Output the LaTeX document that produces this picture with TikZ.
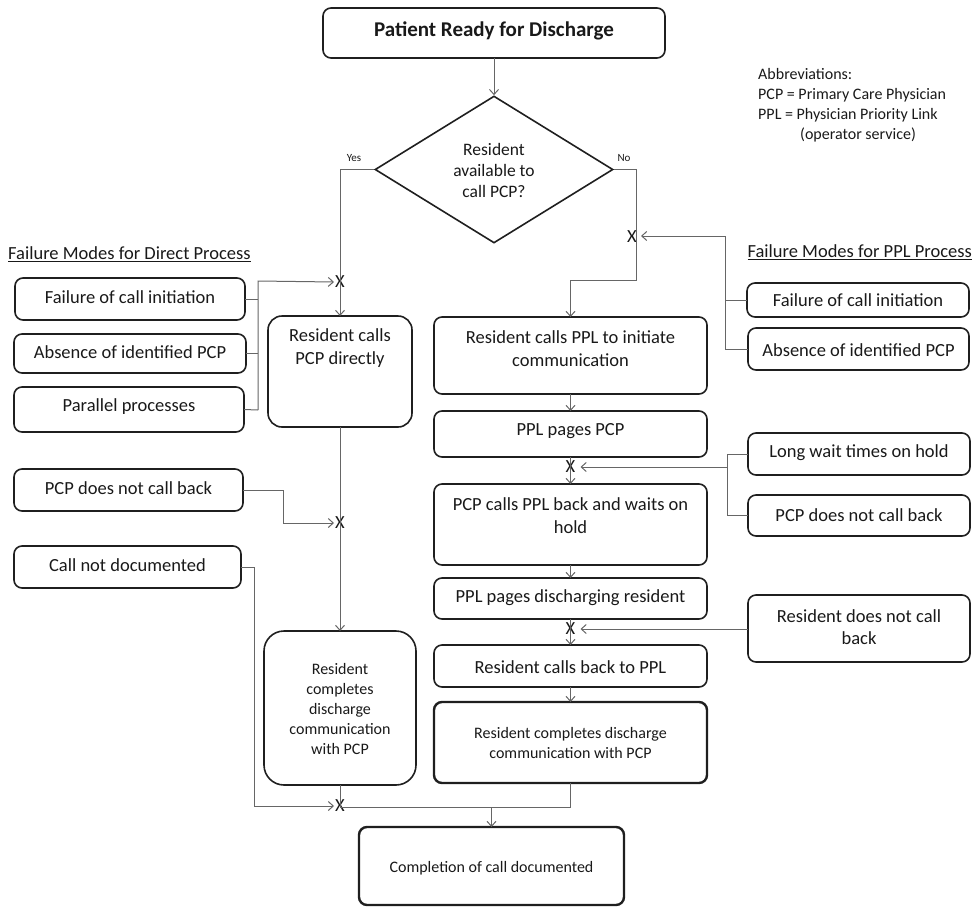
\documentclass[tikz,border=0pt]{standalone}
\usepackage{fontspec}
\setmainfont{Carlito}
\usetikzlibrary{arrows.meta,shapes.geometric}
\newcommand\fsA{\fontsize{18.5}{23}\selectfont}
\newcommand\fsB{\fontsize{16}{20}\selectfont}
\newcommand\fsD{\fontsize{17.5}{21}\selectfont}
\newcommand\fsS{\fontsize{11}{13}\selectfont}
\newcommand\fsT{\fontsize{21}{25}\selectfont\bfseries}
\begin{document}
\begin{tikzpicture}[x=1pt,y=-1pt,
  box/.style={draw=black!88, line width=1.6pt, rounded corners=8pt, inner sep=0pt, outer sep=0pt},
  boxthick/.style={box, line width=2.4pt},
  txt/.style={inner sep=0pt, align=center, font=\fsA, text=black!90},
  small/.style={txt, font=\fsB},
  conn/.style={draw=black!60, line width=1pt},
  arr/.style={conn, -{Straight Barb[length=5pt,width=9pt]}},
  xmark/.style={inner sep=1pt, font=\fsA, text=black!90}
]
\useasboundingbox (0,0) rectangle (973,907);

% ---------- main column ----------
\node[box, minimum width=342, minimum height=50] (top) at (494,33) {};
\node[txt, font=\fsT] at (494,31) {Patient Ready for Discharge};

\node[draw=black!88, line width=1.6pt, diamond, inner sep=0pt, minimum width=238, minimum height=147] (dec) at (494,169.5) {};
\node[txt, font=\fsD, align=center] at (494,170) {Resident\\available to\\call PCP?};
\node[txt, font=\fsS] at (354,158) {Yes};
\node[txt, font=\fsS] at (624,158) {No};

% ---------- direct process ----------
\node[box, rounded corners=14pt, minimum width=144, minimum height=111] (pcp) at (340,371.5) {};
\node[txt] at (340,348.5) {Resident calls\\PCP directly};

\node[box, rounded corners=20pt, minimum width=152, minimum height=154] (lcomp) at (340,708) {};
\node[small] at (340,709) {Resident\\completes\\discharge\\communication\\with PCP};

% ---------- PPL process ----------
\node[box, minimum width=273, minimum height=77] (r1) at (570.5,355.5) {};
\node[txt] at (570.5,348.5) {Resident calls PPL to initiate\\communication};
\node[box, minimum width=273, minimum height=46] (r2) at (570.5,434) {};
\node[txt] at (570.5,431) {PPL pages PCP};
\node[box, minimum width=273, minimum height=81] (r3) at (570.5,524.5) {};
\node[txt] at (570.5,515.5) {PCP calls PPL back and waits on\\hold};
\node[box, minimum width=273, minimum height=41] (r4) at (570.5,598.5) {};
\node[txt] at (570.5,598) {PPL pages discharging resident};
\node[box, minimum width=273, minimum height=42] (r5) at (570.5,666) {};
\node[txt] at (570.5,667) {Resident calls back to PPL};
\node[boxthick, minimum width=273, minimum height=81] (r6) at (570.5,742.5) {};
\node[small] at (570.5,743) {Resident completes discharge\\communication with PCP};

\node[boxthick, minimum width=265, minimum height=78] (fin) at (491.5,866) {};
\node[small] at (491.5,868) {Completion of call documented};

% ---------- left failure modes ----------
\node[txt, anchor=west] at (8,254) {\underline{Failure Modes for Direct Process}};
\node[box, minimum width=230, minimum height=42] (l1) at (130,299) {};
\node[txt] at (130,297) {Failure of call initiation};
\node[box, minimum width=232, minimum height=39] (l2) at (130,353.5) {};
\node[txt] at (130,352) {Absence of identified PCP};
\node[box, minimum width=230, minimum height=45] (l3) at (129,409.5) {};
\node[txt] at (129,407) {Parallel processes};
\node[box, minimum width=229, minimum height=42] (l4) at (128.5,490) {};
\node[txt] at (128.5,488) {PCP does not call back};
\node[box, minimum width=227, minimum height=42] (l5) at (127.5,567) {};
\node[txt] at (127.5,565) {Call not documented};

% ---------- right failure modes ----------
\node[txt, anchor=east] at (972,252) {\underline{Failure Modes for PPL Process}};
\node[box, minimum width=222, minimum height=34] (q1) at (858,300) {};
\node[txt] at (858,300) {Failure of call initiation};
\node[box, minimum width=221, minimum height=42] (q2) at (858.5,349) {};
\node[txt] at (858.5,350) {Absence of identified PCP};
\node[box, minimum width=222, minimum height=42] (q3) at (859,454) {};
\node[txt] at (859,453) {Long wait times on hold};
\node[box, minimum width=222, minimum height=41] (q4) at (859,515.5) {};
\node[txt] at (859,515) {PCP does not call back};
\node[box, minimum width=222, minimum height=67] (q5) at (859,628.5) {};
\node[txt, font=\fontsize{18.5}{22}\selectfont] at (859,627) {Resident does not call\\back};

% ---------- abbreviations ----------
\node[txt, font=\fsB, align=left, anchor=west] at (758,105) {Abbreviations:\\PCP = Primary Care Physician\\PPL = Physician Priority Link\\\hspace{42pt}(operator service)};

% ---------- X marks ----------
\node[xmark] (x1) at (340,282) {X};
\node[xmark] (x2) at (340,523) {X};
\node[xmark] (x3) at (340,806) {X};
\node[xmark] (x4) at (632,237) {X};
\node[xmark] (x5) at (570.5,467) {X};
\node[xmark] (x6) at (570.5,629) {X};

% ---------- connectors ----------
\draw[arr] (top.south) -- (dec.north);
\draw[arr] (dec.west) -| (pcp.north);
\coordinate (nA) at (636,169.5);
\coordinate (nB) at (636,280);
\draw[arr] (dec.east) -- (nA) -- (nB) -| (r1.north);
\draw[arr] (pcp.south) -- (lcomp.north);
\draw[arr] (r1.south) -- (r2.north);
\draw[arr] (r2.south) -- (r3.north);
\draw[arr] (r3.south) -- (r4.north);
\draw[arr] (r4.south) -- (r5.north);
\draw[arr] (r5.south) -- (r6.north);

% merge into completion
\coordinate (mL) at (340,807);
\coordinate (mR) at (570.5,807);
\coordinate (mC) at (491.5,807);
\draw[conn] (lcomp.south) -- (mL) -- (mR) -- (r6.south);
\draw[arr] (mC) -- (fin.north);

% left bracket
\coordinate (lb1) at (258,299);
\coordinate (lb3) at (258,410);
\coordinate (lbt) at (258,281);
\draw[conn] (l1.east) -- (lb1);
\draw[conn] (l2.east) -- (258,353.5);
\draw[conn] (l3.east) -- (lb3);
\draw[arr] (lb3) -- (lbt) -- (x1.west);
% PCP does not call back (left)
\coordinate (l4a) at (283,490);
\draw[arr] (l4.east) -- (l4a) |- (x2.west);
% Call not documented
\coordinate (l5a) at (254,567);
\draw[arr] (l5.east) -- (l5a) |- (x3.west);

% right bracket 1
\coordinate (rb1) at (725,300);
\coordinate (rb2) at (725,349);
\coordinate (rbt) at (725,236);
\draw[conn] (q1.west) -- (rb1);
\draw[conn] (q2.west) -- (rb2);
\draw[arr, shorten >=3pt] (rb2) -- (rbt) -- (x4.east |- rbt);
% right bracket 2
\coordinate (rc1) at (727,454);
\coordinate (rc2) at (727,515.5);
\coordinate (rcm) at (727,467);
\draw[conn] (q3.west) -- (rc1) -- (rc2) -- (q4.west);
\draw[arr, shorten >=4pt] (rcm) -- (x5.east);
% resident does not call back
\draw[arr, shorten >=4pt] (q5.west |- x6) -- (x6.east);
\end{tikzpicture}
\end{document}
